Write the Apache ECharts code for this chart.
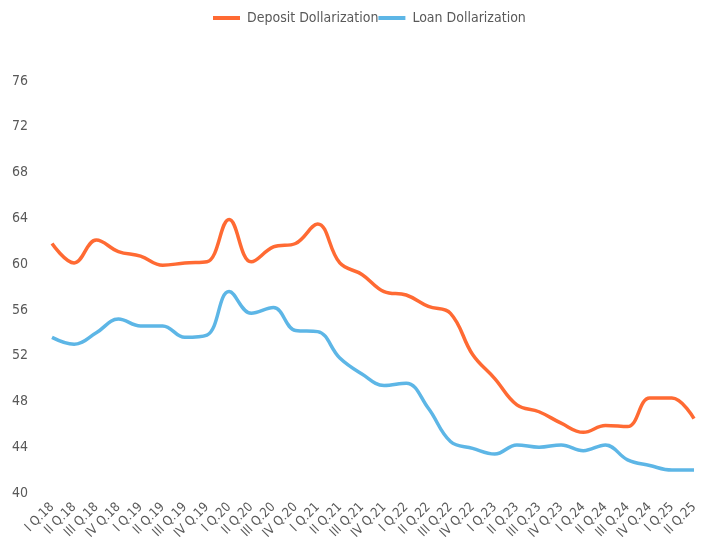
<!DOCTYPE html>
<html>
<head>
<meta charset="utf-8">
<script src="https://cdn.jsdelivr.net/npm/echarts@6/dist/echarts.min.js"></script>
<style>
  html, body { margin: 0; padding: 0; background: #fff; }
  #chart { width: 702px; height: 558px; }
</style>
</head>
<body>
<div id="chart"></div>
<script>
// quarters, 2018 Q1 .. 2025 Q2
const quarters = [
  'I Q.18', 'II Q.18', 'III Q.18', 'IV Q.18',
  'I Q.19', 'II Q.19', 'III Q.19', 'IV Q.19',
  'I Q.20', 'II Q.20', 'III Q.20', 'IV Q.20',
  'I Q.21', 'II Q.21', 'III Q.21', 'IV Q.21',
  'I Q.22', 'II Q.22', 'III Q.22', 'IV Q.22',
  'I Q.23', 'II Q.23', 'III Q.23', 'IV Q.23',
  'I Q.24', 'II Q.24', 'III Q.24', 'IV Q.24',
  'I Q.25', 'II Q.25'
];
const depositDollarization = [
  61.8, 60.1, 62.1, 61.1, 60.7, 59.9, 60.1, 60.2,
  63.9, 60.2, 61.5, 61.8, 63.5, 60.1, 59.1, 57.6,
  57.3, 56.3, 55.7, 52.1, 50.0, 47.7, 47.1, 46.1,
  45.3, 45.9, 45.8, 48.3, 48.3, 46.5
];
const loanDollarization = [
  53.6, 53.0, 54.0, 55.2, 54.6, 54.6, 53.6, 53.8,
  57.6, 55.7, 56.2, 54.2, 54.1, 51.8, 50.4, 49.4,
  49.6, 47.4, 44.5, 43.9, 43.4, 44.2, 44.0, 44.2,
  43.7, 44.2, 42.9, 42.4, 42.0, 42.0
];

const font = '"Liberation Sans Narrow", "DejaVu Sans Condensed", sans-serif';
const textColor = '#595959';

const chart = echarts.init(document.getElementById('chart'));
chart.setOption({
  animation: false,
  textStyle: { fontFamily: font },
  legend: {
    top: 6,
    left: 208,
    itemGap: 0,
    itemWidth: 27,
    itemHeight: 4,
    icon: 'rect',
    textStyle: { fontFamily: font, fontSize: 14, color: textColor, padding: [0, 0, 0, 2] },
    data: ['Deposit Dollarization', 'Loan Dollarization']
  },
  grid: { left: 52, right: 8, top: 81, bottom: 65 },
  xAxis: {
    type: 'category',
    boundaryGap: false,
    data: quarters,
    axisLine: { show: false },
    axisTick: { show: false },
    axisLabel: {
      interval: 0,
      rotate: 45,
      margin: 12,
      fontFamily: font,
      fontSize: 13,
      color: textColor
    }
  },
  yAxis: {
    type: 'value',
    min: 40,
    max: 76,
    interval: 4,
    splitLine: { show: false },
    axisLine: { show: false },
    axisTick: { show: false },
    axisLabel: {
      margin: 24,
      fontFamily: font,
      fontSize: 14,
      color: textColor
    }
  },
  series: [
    {
      name: 'Deposit Dollarization',
      type: 'line',
      smooth: 0.4,
      showSymbol: false,
      data: depositDollarization,
      itemStyle: { color: '#FF6A33' },
      lineStyle: { width: 3.5, color: '#FF6A33' }
    },
    {
      name: 'Loan Dollarization',
      type: 'line',
      smooth: 0.4,
      showSymbol: false,
      data: loanDollarization,
      itemStyle: { color: '#5DB6E6' },
      lineStyle: { width: 3.5, color: '#5DB6E6' }
    }
  ]
});
</script>
</body>
</html>
